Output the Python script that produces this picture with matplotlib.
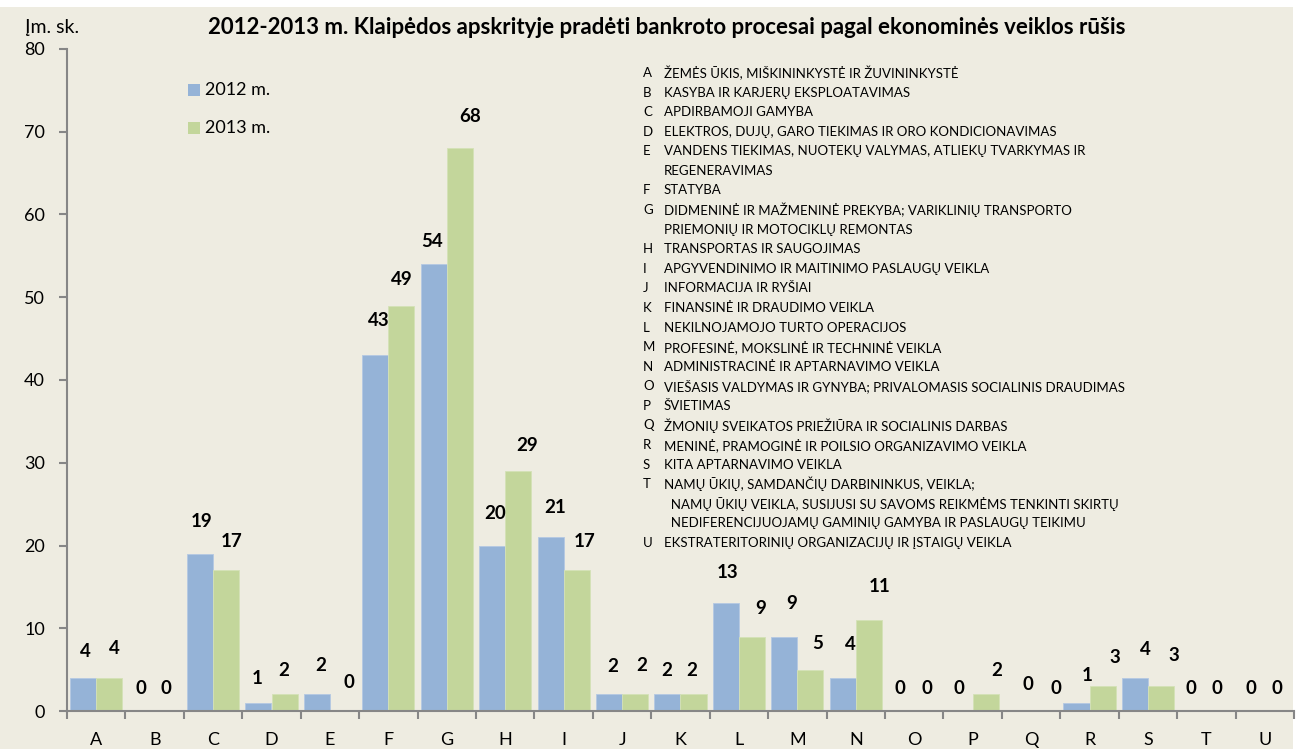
import numpy as np
import matplotlib.pyplot as plt
from matplotlib.patches import Rectangle

plt.rcParams['font.family'] = ['Lato', 'DejaVu Sans']

categories = list("ABCDEFGHIJKLMNOPQRSTU")
values_2012 = [4, 0, 19, 1, 2, 43, 54, 20, 21, 2, 2, 13, 9, 4, 0, 0, 0, 1, 4, 0, 0]
values_2013 = [4, 0, 17, 2, 0, 49, 68, 29, 17, 2, 2, 9, 5, 11, 0, 2, 0, 3, 3, 0, 0]

# label offsets (pixels) from the bar top
dx_2012 = [2, -1, 2, -1, 4, 3, -2, 3, 4, 4, -1, 2, 7, 8, -1, -1, 10, 11, 10, -2, -1]
dy_2012 = [26, 23, 32, 24, 29, 35, 23, 32, 30, 28, 24, 31, 33, 33, 23, 23, 26, 27, 28, 23, 23]
dx_2013 = [5, -2, 6, -1, 6, 0, 10, 9, 8, 7, -2, 9, 7, 11, 0, 11, 12, 12, 13, -2, -1]
dy_2013 = [29, 23, 29, 24, 28, 26, 32, 26, 29, 29, 24, 28, 26, 33, 23, 24, 23, 29, 31, 23, 23]

legend_lines = [
    ("A", "ŽEMĖS ŪKIS, MIŠKININKYSTĖ IR ŽUVININKYSTĖ"),
    ("B", "KASYBA IR KARJERŲ EKSPLOATAVIMAS"),
    ("C", "APDIRBAMOJI GAMYBA"),
    ("D", "ELEKTROS, DUJŲ, GARO TIEKIMAS IR ORO KONDICIONAVIMAS"),
    ("E", "VANDENS TIEKIMAS, NUOTEKŲ VALYMAS, ATLIEKŲ TVARKYMAS IR"),
    ("", "REGENERAVIMAS"),
    ("F", "STATYBA"),
    ("G", "DIDMENINĖ IR MAŽMENINĖ PREKYBA; VARIKLINIŲ TRANSPORTO"),
    ("", "PRIEMONIŲ IR MOTOCIKLŲ REMONTAS"),
    ("H", "TRANSPORTAS IR SAUGOJIMAS"),
    ("I", "APGYVENDINIMO IR MAITINIMO PASLAUGŲ VEIKLA"),
    ("J", "INFORMACIJA IR RYŠIAI"),
    ("K", "FINANSINĖ IR DRAUDIMO VEIKLA"),
    ("L", "NEKILNOJAMOJO TURTO OPERACIJOS"),
    ("M", "PROFESINĖ, MOKSLINĖ IR TECHNINĖ VEIKLA"),
    ("N", "ADMINISTRACINĖ IR APTARNAVIMO VEIKLA"),
    ("O", "VIEŠASIS VALDYMAS IR GYNYBA; PRIVALOMASIS SOCIALINIS DRAUDIMAS"),
    ("P", "ŠVIETIMAS"),
    ("Q", "ŽMONIŲ SVEIKATOS PRIEŽIŪRA IR SOCIALINIS DARBAS"),
    ("R", "MENINĖ, PRAMOGINĖ IR POILSIO ORGANIZAVIMO VEIKLA"),
    ("S", "KITA APTARNAVIMO VEIKLA"),
    ("T", "NAMŲ ŪKIŲ, SAMDANČIŲ DARBININKUS, VEIKLA;"),
    ("", "  NAMŲ ŪKIŲ VEIKLA, SUSIJUSI SU SAVOMS REIKMĖMS TENKINTI SKIRTŲ"),
    ("", "  NEDIFERENCIJUOJAMŲ GAMINIŲ GAMYBA IR PASLAUGŲ TEIKIMU"),
    ("U", "EKSTRATERITORINIŲ ORGANIZACIJŲ IR ĮSTAIGŲ VEIKLA"),
]

W, H = 1301, 749
bg = '#EEECE1'
blue = '#95B3D7'
green = '#C3D69B'
grey = '#868686'

fig = plt.figure(figsize=(W / 100, H / 100), dpi=100, facecolor='white')
fig.patches.append(Rectangle((0, 0), 1293 / W, (H - 7) / H, transform=fig.transFigure,
                             facecolor=bg, edgecolor='none', zorder=-10))

ax = fig.add_axes([67 / W, (H - 711) / H, (1294 - 67) / W, (711 - 49) / H])
ax.set_facecolor(bg)
ax.patch.set_alpha(0)

x = np.arange(len(categories))
w = 0.445
ax.bar(x - w / 2, values_2012, w, color=blue, edgecolor='#B4C9E3', linewidth=0.6, label='2012 m.')
ax.bar(x + w / 2, values_2013, w, color=green, edgecolor='#D4E2B6', linewidth=0.6, label='2013 m.')

for i in range(len(categories)):
    ax.annotate(str(values_2012[i]), (x[i] - w / 2, values_2012[i]),
                xytext=(dx_2012[i], dy_2012[i]), textcoords='offset pixels',
                ha='center', va='center', fontsize=13.5, fontweight='bold')
    ax.annotate(str(values_2013[i]), (x[i] + w / 2, values_2013[i]),
                xytext=(dx_2013[i], dy_2013[i]), textcoords='offset pixels',
                ha='center', va='center', fontsize=13.5, fontweight='bold')

ax.set_xlim(-0.5, len(categories) - 0.5)
ax.set_ylim(0, 80)
ax.set_yticks(np.arange(0, 81, 10))
ax.set_xticks(x)
ax.set_xticklabels(categories)
ax.set_xticks(np.arange(-0.5, len(categories), 1), minor=True)
ax.tick_params(axis='x', which='major', length=0, pad=15, labelsize=13)
ax.tick_params(axis='x', which='minor', length=6, width=1.5, color=grey, direction='out')
ax.tick_params(axis='y', length=6, width=1.5, color=grey, labelsize=13, pad=10)
for s in ['top', 'right']:
    ax.spines[s].set_visible(False)
for s in ['left', 'bottom']:
    ax.spines[s].set_color(grey)
    ax.spines[s].set_linewidth(1.5)

fig.text(667 / W, 1 - 28 / H, '2012-2013 m. Klaipėdos apskrityje pradėti bankroto procesai pagal ekonominės veiklos rūšis',
         ha='center', va='center', fontsize=16, fontweight='bold')
fig.text(25 / W, 1 - 28 / H, 'Įm. sk.', ha='left', va='center', fontsize=14)

# series legend
for j, (lab, col) in enumerate([('2012 m.', blue), ('2013 m.', green)]):
    yy = 1 - (90 + 38 * j) / H
    fig.patches.append(Rectangle((188 / W, yy - 6 / H), 12 / W, 12 / H, transform=fig.transFigure,
                                 facecolor=col, edgecolor='none'))
    fig.text(205 / W, yy, lab, ha='left', va='center', fontsize=13)

# activity code list
for k, (code, desc) in enumerate(legend_lines):
    yy = 1 - (73 + 19.58 * k) / H
    if code:
        fig.text(643 / W, yy, code, ha='left', va='center', fontsize=9.5)
    fig.text(664 / W, yy, desc, ha='left', va='center', fontsize=9.5)

fig.savefig('out.png', dpi=100, facecolor='white')
